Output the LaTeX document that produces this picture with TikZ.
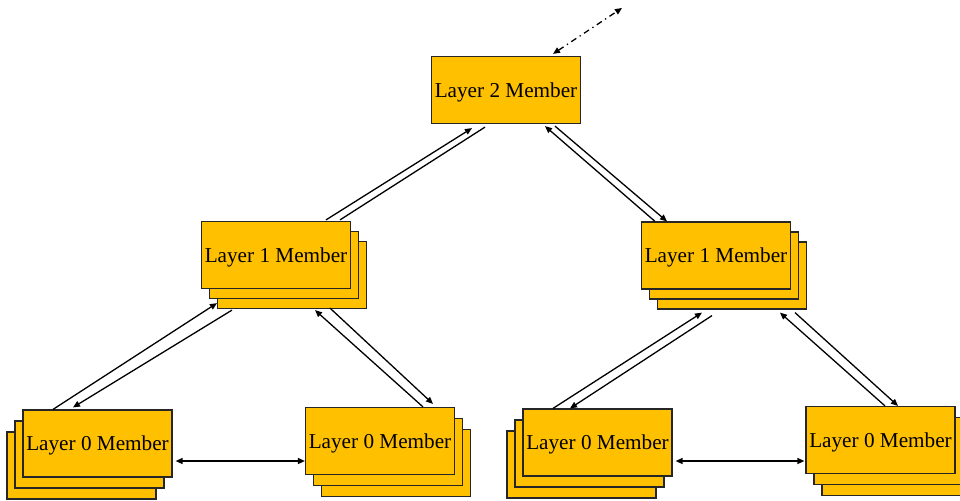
\documentclass[tikz,border=0pt]{standalone}
\usepackage{fontspec}
\setmainfont{Liberation Serif}
\usepackage{xcolor}
\usepackage{tikz}
\usetikzlibrary{shadows, calc, arrows.meta}

\definecolor{gold}{RGB}{255,192,0}

\begin{document}
\begin{tikzpicture}[x=0.5pt, y=-0.5pt,
        member/.style={
                rectangle,
                fill=gold,
                draw=black!85,
                line width=0.6pt,
                minimum width=74.5pt,
                minimum height=33.5pt,
                inner sep=0pt,
                text depth=0pt,
                font=\fontsize{10.6}{12}\selectfont,
        },
        stack/.style 2 args={
                copy shadow={fill=gold, draw=black!85, line width=0.6pt, shadow xshift=2*#1, shadow yshift=2*#2},
                copy shadow={fill=gold, draw=black!85, line width=0.6pt, shadow xshift=#1, shadow yshift=#2},
        },
        link/.style={line width=0.65pt},
        tip/.style={link, -{Triangle[length=3.5pt, width=3pt]}},
        both/.style={link, {Triangle[length=3.5pt, width=3pt]}-{Triangle[length=3.5pt, width=3pt]}},
    ]
            \useasboundingbox (0, 0) rectangle (960, 500);

            \node[member] (l2) at (506, 90) {Layer 2 Member};
            \node[member, stack={4pt}{-5pt}] (l1a) at (276, 255) {Layer 1 Member};
            \node[member, stack={4pt}{-5pt}] (l1b) at (716, 255.5) {Layer 1 Member};
            \node[member, stack={-4pt}{-5.5pt}] (l0a) at (97.5, 443.5) {Layer 0 Member};
            \node[member, stack={4pt}{-5.5pt}] (l0b) at (380, 441) {Layer 0 Member};
            \node[member, stack={-4pt}{-5.5pt}] (l0c) at (597.5, 442.5) {Layer 0 Member};
            \node[member, stack={4pt}{-5.5pt}] (l0d) at (880.5, 440) {Layer 0 Member};
            \coordinate (up) at (622, 8);

            % layer 1 -- layer 2
            \draw[tip] ($(l1a.north)+(50,-1)$) -- ($(l2.south)+(-34,4)$);
            \draw[link] ($(l1a.north)+(64,-1)$) -- ($(l2.south)+(-21,3)$);
            \draw[tip] ($(l1b.north)+(-61,0)$) -- ($(l2.south)+(39,2)$);
            \draw[tip] ($(l2.south)+(49,2)$) -- ($(l1b.north)+(-49,0)$);

            % layer 0 -- layer 1
            \draw[tip] ($(l0a.north)+(-44.5,0)$) -- ($(l1a.south)+(-59,14)$);
            \draw[tip] ($(l1a.south)+(-44,21)$) -- ($(l0a.north)+(-24.5,-2)$);
            \draw[tip] ($(l0b.north)+(43,0)$) -- ($(l1a.south)+(39,21)$);
            \draw[tip] ($(l1a.south)+(54,19)$) -- ($(l0b.north)+(53,-3)$);
            \draw[tip] ($(l0c.north)+(-44.5,0)$) -- ($(l1b.south)+(-14,23)$);
            \draw[tip] ($(l1b.south)+(-4,26)$) -- ($(l0c.north)+(-27.5,0)$);
            \draw[tip] ($(l0d.north)+(4.5,0)$) -- ($(l1b.south)+(64,23)$);
            \draw[tip] ($(l1b.south)+(79,23)$) -- ($(l0d.north)+(17.5,0)$);

            % layer 0 -- layer 0
            \draw[both] ($(l0a.east)+(3,17.5)$) -- ($(l0b.west)+(0,20)$);
            \draw[both] ($(l0c.east)+(3,18.5)$) -- ($(l0d.west)+(-1,21)$);

            \draw[both, dash dot] ($(l2.north)+(47,-2)$) -- (up);
        \end{tikzpicture}
\end{document}
